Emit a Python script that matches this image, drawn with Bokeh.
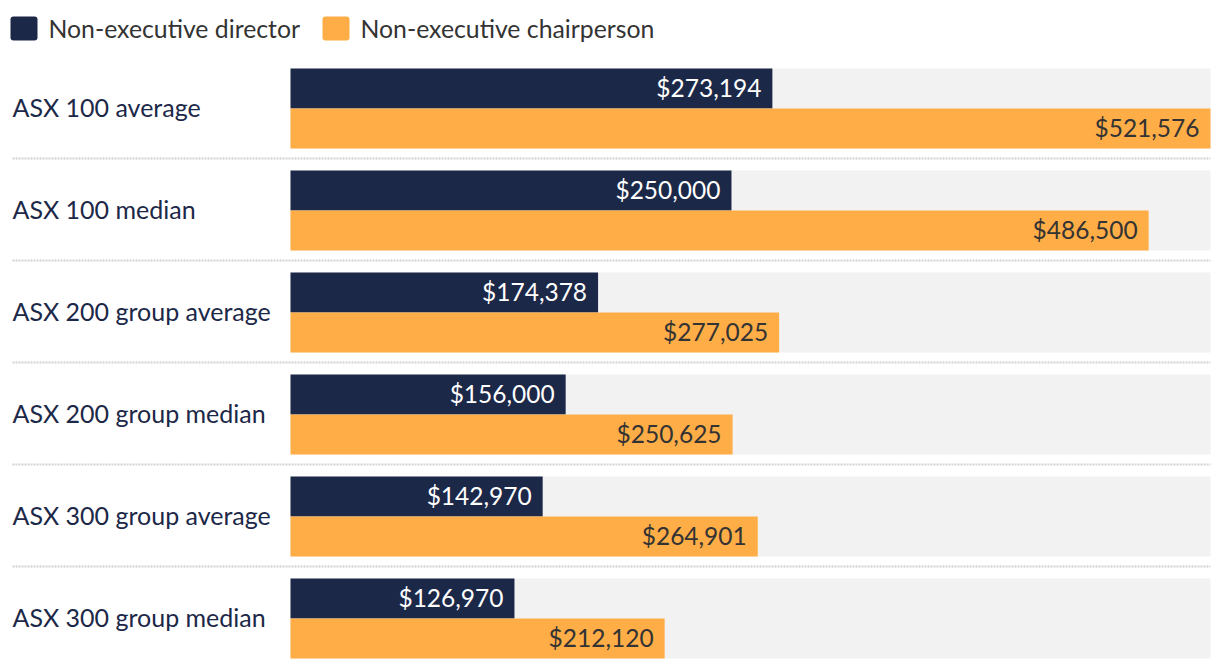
from bokeh.plotting import figure
from bokeh.models import Range1d, ColumnDataSource, LabelSet, BoxAnnotation, Label
from bokeh.core.properties import value
from bokeh.embed import file_html
from bokeh.resources import INLINE

categories = ["ASX 100 average", "ASX 100 median", "ASX 200 group average",
              "ASX 200 group median", "ASX 300 group average", "ASX 300 group median"]
director = [273194, 250000, 174378, 156000, 142970, 126970]
chair = [521576, 486500, 277025, 250625, 264901, 212120]
series_names = ["Non-executive director", "Non-executive chairperson"]

NAVY = "#1c2848"
ORANGE = "#ffad47"
GRAY = "#f2f2f2"
FONT = "Lato"
FS = "24.5px"
FS_CAT = "25px"
FS_LEG = "24.8px"

W, H = 1220, 668
left_px, right_px = 290, 1210
vmax = max(chair + director)
k = vmax / (right_px - left_px)

p = figure(width=W, height=H, output_backend="svg", toolbar_location=None,
           x_range=Range1d(-left_px * k, (W - left_px) * k),
           y_range=Range1d(H, 0), min_border=0)
p.axis.visible = False
p.grid.visible = False
p.outline_line_color = None
p.background_fill_color = "white"

top0, pitch, bh = 68, 102, 40
tops = [top0 + i * pitch for i in range(len(categories))]

src = ColumnDataSource(dict(
    cat=categories,
    d=director, c=chair,
    dl=["${:,}".format(v) for v in director],
    cl=["${:,}".format(v) for v in chair],
    yd=[t + bh / 2 for t in tops],
    yc=[t + bh * 1.5 for t in tops],
    ym=[t + bh for t in tops],
    mx=[vmax] * len(categories),
))

p.hbar(y="ym", left=0, right="mx", height=2 * bh, source=src, fill_color=GRAY, line_color=None)
p.hbar(y="yd", left=0, right="d", height=bh, source=src, fill_color=NAVY, line_color=None)
p.hbar(y="yc", left=0, right="c", height=bh, source=src, fill_color=ORANGE, line_color=None)

# separators
for t in tops[:-1]:
    p.segment(x0=-278 * k, x1=vmax, y0=t + 90, y1=t + 90, line_color="#d2d2d2",
              line_width=2, line_dash="2 1")

p.add_layout(LabelSet(x="d", y="yd", text="dl", source=src, x_offset=-11, y_offset=1,
                      text_align="right", text_baseline="middle", text_color="white",
                      text_font=value(FONT), text_font_size=value(FS)))
p.add_layout(LabelSet(x="c", y="yc", text="cl", source=src, x_offset=-11, y_offset=1,
                      text_align="right", text_baseline="middle", text_color="#333333",
                      text_font=value(FONT), text_font_size=value(FS)))
p.add_layout(LabelSet(x=12, x_units="screen", y="ym", text="cat", source=src, y_offset=2,
                      text_align="left", text_baseline="middle", text_color=NAVY,
                      text_font=value(FONT), text_font_size=value(FS_CAT)))

# legend
legend_items = [(series_names[0], NAVY, 10), (series_names[1], ORANGE, 322)]
for name, col, x in legend_items:
    p.add_layout(BoxAnnotation(left=x, right=x + 27, left_units="screen", right_units="screen",
                               top=16, bottom=40, fill_color=col, fill_alpha=1,
                               line_color=None, border_radius=3))
    p.add_layout(Label(x=x + 38, x_units="screen", y=28, text=name, text_baseline="middle",
                       text_align="left", text_color="#333333", text_font=FONT,
                       text_font_size=FS_LEG))

open("out.html", "w").write(file_html(p, INLINE))
